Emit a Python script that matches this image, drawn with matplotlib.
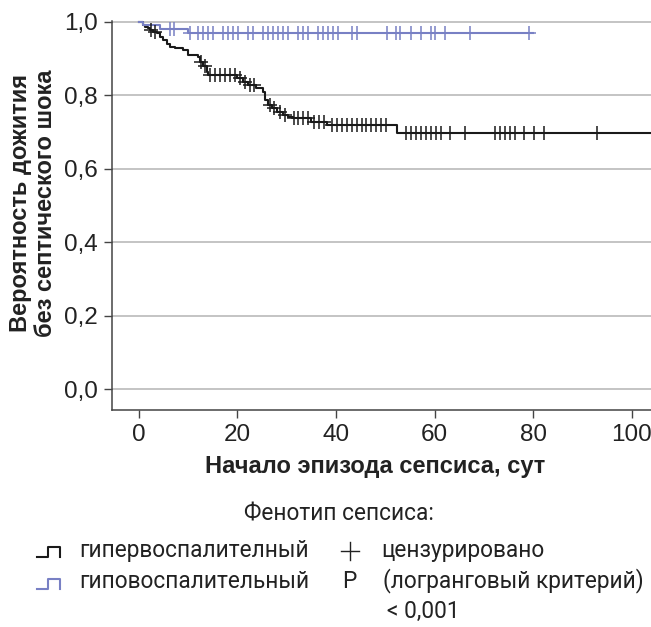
import numpy as np
import matplotlib
matplotlib.use("Agg")
import matplotlib.pyplot as plt
from matplotlib.lines import Line2D

# Kaplan-Meier steps: time (days) and survival after each step
hyper_t = [0, 0.9, 1.3, 2.0, 2.3, 3.0, 3.7, 4.3, 5.0, 5.7, 6.4, 7.4, 9.0, 10.1, 12.1, 12.4,
           13.1, 13.8, 14.1, 19.9, 21.2, 22.2, 23.9, 25.3, 25.6, 26.3, 27.0, 28.0, 29.3,
           30.3, 31.3, 35.0, 38.1, 52.3, 110]
hyper_s = [1.0, 0.991, 0.986, 0.982, 0.977, 0.973, 0.968, 0.959, 0.950, 0.939, 0.932, 0.929,
           0.923, 0.909, 0.905, 0.891, 0.880, 0.864, 0.855, 0.846, 0.837, 0.828, 0.819, 0.810,
           0.787, 0.773, 0.764, 0.755, 0.746, 0.742, 0.737, 0.728, 0.719, 0.696, 0.696]
hyper_cens = [2.6, 3.4, 12.6, 13.4, 14.5, 15.5, 16.5, 17.5, 18.5, 19.5, 20.6, 21.6, 22.6, 23.4,
              26.6, 27.5, 28.6, 29.6, 31.5, 32.4, 33.4, 34.4, 35.5, 36.5, 37.5, 39.2, 40.2,
              41.2, 42.2, 43.2, 44.2, 45.2, 46.2, 47.2, 48.2, 49.2, 50.2, 54.2, 55.2, 56.3,
              57.3, 58.3, 59.3, 60.3, 61.3, 63.1, 66.2, 72.3, 73.3, 74.3, 75.3, 76.3, 78.2,
              80.2, 82.2, 93.0]

hypo_t = [0, 0.9, 4.3, 10.1, 80.0]
hypo_s = [1.0, 0.991, 0.979, 0.968, 0.968]
hypo_cens = [6.4, 7.2, 10.4, 12.1, 13.1, 14.1, 15.1, 17.2, 18.2, 19.2, 20.2, 22.2, 23.2, 25.3,
             26.3, 27.3, 28.3, 29.3, 30.3, 32.4, 33.4, 34.4, 36.4, 37.4, 38.4, 39.5, 40.5,
             43.2, 44.2, 50.3, 52.1, 53.1, 55.2, 57.3, 59.3, 60.1, 62.1, 67.2, 79.2]

y_ticks = [0.0, 0.2, 0.4, 0.6, 0.8, 1.0]
x_ticks = [0, 20, 40, 60, 80, 100]

black = "#1a1a1a"
blue = "#7880c4"
txt = "#222222"

plt.rcParams['font.family'] = ['Liberation Sans', 'DejaVu Sans']

W, H = 651, 627
fig = plt.figure(figsize=(W / 100, H / 100), dpi=100)
ax = fig.add_axes([112 / W, 1 - 410 / H, 1 - 112 / W, (410 - 21) / H])


def surv_at(tt, ss, c):
    idx = np.searchsorted(tt, c, side='right') - 1
    return np.array(ss)[idx]


for tt, ss, cens, col in [(hyper_t, hyper_s, hyper_cens, black), (hypo_t, hypo_s, hypo_cens, blue)]:
    ax.step(tt, ss, where='post', color=col, lw=1.5, clip_on=False, zorder=3)
    ax.plot(cens, surv_at(tt, ss, cens), ls='none', marker='+', ms=9.5, mew=1.1,
            color=col, clip_on=False, zorder=4)

ax.set_xlim(-5.4, 103.9)
ax.set_ylim(-0.0563, 1.002)
ax.set_yticks(y_ticks)
ax.set_yticklabels([f"{v:.1f}".replace('.', ',') for v in y_ticks])
ax.set_xticks(x_ticks)
ax.grid(axis='y', color='#b4b4b4', lw=1.1)
ax.set_axisbelow(True)
for s in ['top', 'right']:
    ax.spines[s].set_visible(False)
for s in ['left', 'bottom']:
    ax.spines[s].set_color('#444444')
    ax.spines[s].set_linewidth(1.1)
ax.tick_params(axis='both', direction='out', length=6, width=1.0, color='#444444',
               labelsize=17.5, labelcolor=txt)
ax.tick_params(axis='y', pad=4)
ax.tick_params(axis='x', pad=4)

fig.text(375 / W, 1 - 467 / H, "Начало эпизода сепсиса, сут", ha='center', va='center',
         fontsize=17, fontweight='bold', color=txt)
fig.text(33 / W, 1 - 203 / H, "Вероятность дожития\nбез септического шока", ha='center',
         va='center', rotation=90, fontsize=17, fontweight='bold', color=txt,
         linespacing=1.1)

# legend block
leg_font = ['Roboto', 'DejaVu Sans']
fs = 16.3
fig.text(339 / W, 1 - 514 / H, "Фенотип сепсиса:", ha='center', va='center',
         fontsize=fs, family=leg_font, color=txt)


def step_glyph(yc, col):
    xs = np.array([37, 48, 48, 60, 60]) / W
    ys = 1 - np.array([yc + 5, yc + 5, yc - 5, yc - 5, yc + 5]) / H
    fig.add_artist(Line2D(xs, ys, color=col, lw=1.5, transform=fig.transFigure))


step_glyph(552, black)
step_glyph(584, blue)
fig.text(79 / W, 1 - 550 / H, "гипервоспалителный", va='center', fontsize=fs,
         family=leg_font, color=txt)
fig.text(79 / W, 1 - 581 / H, "гиповоспалительный", va='center', fontsize=fs,
         family=leg_font, color=txt)
fig.add_artist(Line2D([341 / W, 359 / W], [1 - 551 / H] * 2, color=txt, lw=1.0))
fig.add_artist(Line2D([350 / W] * 2, [1 - 542 / H, 1 - 560 / H], color=txt, lw=1.0))
fig.text(381 / W, 1 - 550 / H, "цензурировано", va='center', fontsize=fs,
         family=leg_font, color=txt)
fig.text(342 / W, 1 - 581 / H, "P", va='center', fontsize=fs, family=leg_font, color=txt)
fig.text(383 / W, 1 - 581 / H, "(логранговый критерий)", va='center', fontsize=fs,
         family=leg_font, color=txt)
fig.text(387 / W, 1 - 611 / H, "< 0,001", va='center', fontsize=fs, family=leg_font,
         color=txt)

fig.savefig("out.png", dpi=100)
